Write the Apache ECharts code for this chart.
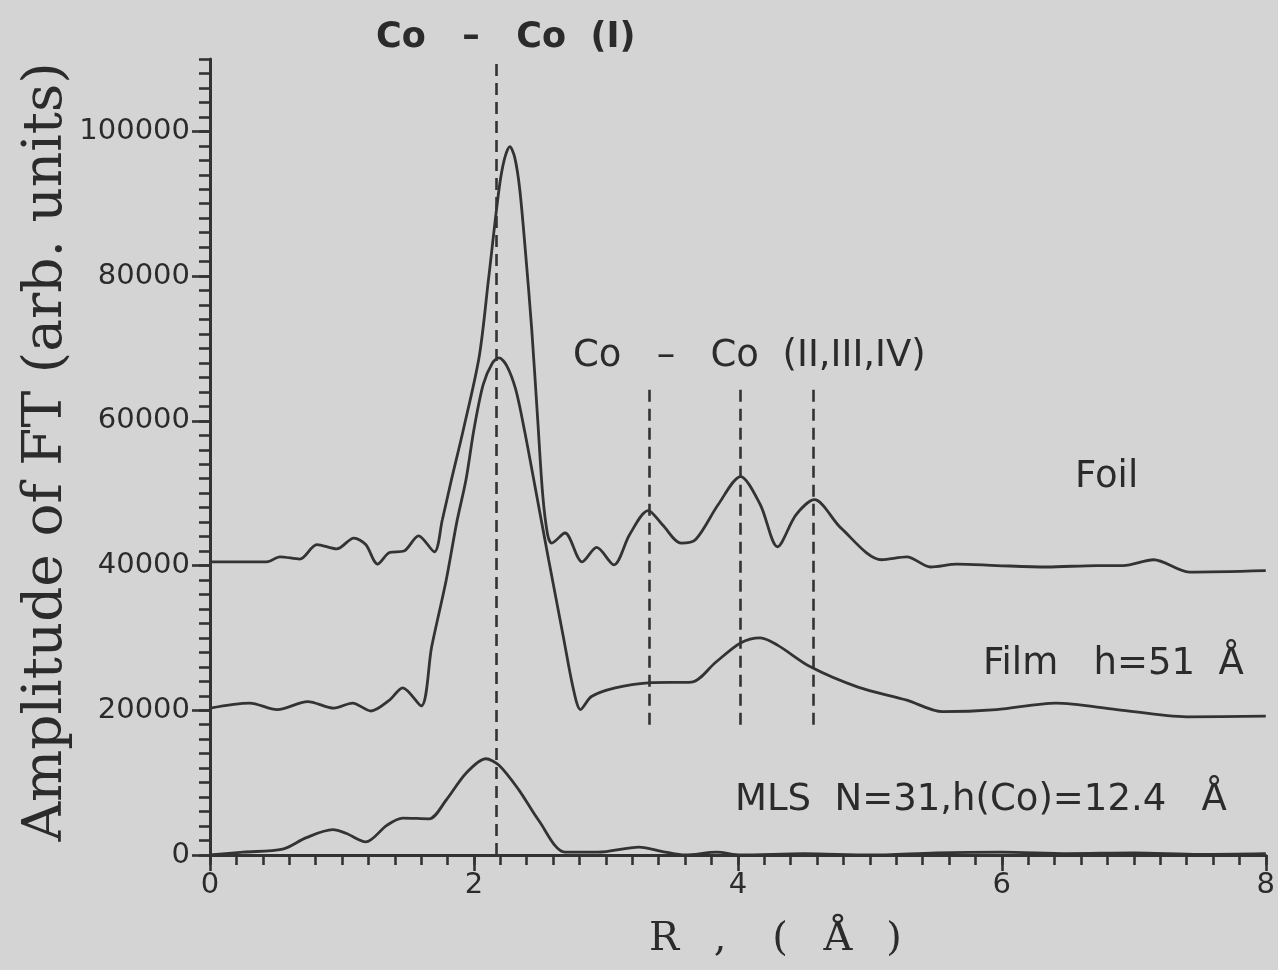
<!DOCTYPE html>
<html>
<head>
<meta charset="utf-8">
<script src="https://cdn.jsdelivr.net/npm/echarts@6/dist/echarts.min.js"></script>
<style>
html,body{margin:0;padding:0;background:#d4d4d4;}
#chart{width:1278px;height:970px;}
</style>
</head>
<body>
<div id="chart"></div>
<script>
// ---- data ----
const foilR = [0,0.43,0.53,0.68,0.81,0.96,1.09,1.18,1.27,1.36,1.47,1.58,1.70,1.76,1.83,1.92,2.04,2.11,2.19,2.23,2.272,2.309,2.347,2.392,2.438,2.483,2.521,2.558,2.589,2.69,2.82,2.93,3.06,3.18,3.32,3.43,3.57,3.68,3.85,4.02,4.17,4.30,4.44,4.58,4.78,5.09,5.28,5.46,5.66,5.96,6.34,6.72,6.92,7.15,7.42,8.0];
const foilV = [40500,40500,41200,40900,42900,42300,43800,42900,40200,41800,42000,44100,41900,46300,51900,58800,68900,79500,92000,96100,97900,96400,92000,83000,72600,60200,49800,44300,43100,44500,40500,42500,40100,44300,47600,45600,43100,43600,48400,52300,48400,42600,47000,49100,45200,40800,41200,39800,40200,40000,39800,40000,40000,40800,39100,39300];

const filmR = [0,0.30,0.51,0.74,0.94,1.08,1.22,1.36,1.46,1.60,1.68,1.79,1.87,1.94,2.00,2.07,2.14,2.19,2.249,2.317,2.385,2.46,2.566,2.679,2.755,2.808,2.89,3.07,3.32,3.65,3.83,4.02,4.17,4.30,4.55,4.91,5.28,5.55,5.96,6.41,6.87,7.40,8.0];
const filmV = [20300,21000,20100,21200,20300,21000,19900,21400,23100,20600,28800,38000,46000,51900,58800,65000,68000,68700,67600,64300,58500,51200,40800,30000,22800,20100,21900,23100,23800,23900,26600,29300,30000,29000,26000,23200,21400,19800,20100,21000,20100,19100,19200];

const mlsR = [0,0.25,0.55,0.73,0.93,1.03,1.18,1.34,1.46,1.66,1.79,1.94,2.09,2.19,2.34,2.49,2.69,2.94,3.25,3.45,3.60,3.84,4.02,4.5,5.0,5.5,6.0,6.5,7.0,7.5,8.0];
const mlsV = [0,400,800,2400,3500,3000,1800,4100,5100,5000,7600,11300,13300,12400,9000,4800,400,400,1100,400,0,400,0,200,0,300,400,200,300,100,200];

const peakI = [2.17];                 // Co-Co (I) dashed line
const peaksII = [3.33, 4.02, 4.57];   // Co-Co (II,III,IV) dashed lines
const peaksIIRange = [64300, 17600];  // vertical extent of those dashed lines

const yTickVals = [0,20000,40000,60000,80000,100000];
const xTickVals = [0,2,4,6,8];

const ink = '#333333';
const txt = '#2b2b2b';

function pairs(r, v){ return r.map((x,i)=>[x, v[i]]); }

const chart = echarts.init(document.getElementById('chart'), null, {renderer:'canvas'});

const dashStyle = {color: ink, width: 2.6, type: [12, 7]};
const lineCommon = {smooth: 0.3, showSymbol: false, symbol: 'none',
  lineStyle: {color: ink, width: 2.8}};

const option = {
  backgroundColor: '#d4d4d4',
  animation: false,
  grid: {left: 210, right: 8, top: 59, bottom: 115, containLabel: false},
  xAxis: [{
    type: 'value', min: 0, max: 8, interval: 2,
    axisLine: {show: true, onZero: false, lineStyle: {color: ink, width: 3}},
    axisTick: {show: true, length: 16, lineStyle: {color: ink, width: 2.6}},
    splitLine: {show: false},
    axisLabel: {color: txt, fontFamily: 'DejaVu Sans', fontSize: 29, margin: 16,
      customValues: xTickVals, formatter: v => String(v)}
  }, {
    type: 'value', min: 0, max: 8, interval: 0.2, position: 'bottom',
    axisLine: {show: false},
    axisTick: {show: true, length: 10, lineStyle: {color: ink, width: 2.6}},
    axisLabel: {show: false},
    splitLine: {show: false}
  }],
  yAxis: [{
    type: 'value', min: 0, max: 110000, interval: 20000,
    axisLine: {show: true, lineStyle: {color: ink, width: 3}},
    axisTick: {show: true, length: 18, customValues: yTickVals, lineStyle: {color: ink, width: 2.6}},
    splitLine: {show: false},
    axisLabel: {color: txt, fontFamily: 'DejaVu Sans', fontSize: 29, margin: 20,
      customValues: yTickVals, formatter: v => (v > 100000 ? '' : String(v))}
  }, {
    type: 'value', min: 0, max: 110000, interval: 2000, position: 'left',
    axisLine: {show: false},
    axisTick: {show: true, length: 11, lineStyle: {color: ink, width: 2.6}},
    axisLabel: {show: false},
    splitLine: {show: false}
  }],
  series: [
    Object.assign({
      name: 'Foil', type: 'line', data: pairs(foilR, foilV),
      markLine: {
        silent: true, symbol: 'none', label: {show: false}, lineStyle: dashStyle,
        data: peakI.map(x => ({xAxis: x}))
      }
    }, lineCommon),
    Object.assign({
      name: 'Film', type: 'line', data: pairs(filmR, filmV),
      markLine: {
        silent: true, symbol: 'none', label: {show: false}, lineStyle: dashStyle,
        data: peaksII.map(x => [{coord: [x, peaksIIRange[0]]}, {coord: [x, peaksIIRange[1]]}])
      }
    }, lineCommon),
    Object.assign({
      name: 'MLS', type: 'line', data: pairs(mlsR, mlsV)
    }, lineCommon)
  ],
  graphic: [
    {type: 'text', x: 47, y: 452, rotation: Math.PI/2,
      style: {text: 'Amplitude of FT (arb. units)', font: '55px "DejaVu Serif"', fill: txt,
        textAlign: 'center', textVerticalAlign: 'middle'}},
    {type: 'text', x: 664, y: 940, style: {text: 'R', font: '40px "DejaVu Serif"', fill: txt, textAlign: 'center', textVerticalAlign: 'middle'}},
    {type: 'text', x: 720, y: 940, style: {text: ',', font: '40px "DejaVu Serif"', fill: txt, textAlign: 'center', textVerticalAlign: 'middle'}},
    {type: 'text', x: 780, y: 940, style: {text: '(', font: '40px "DejaVu Serif"', fill: txt, textAlign: 'center', textVerticalAlign: 'middle'}},
    {type: 'text', x: 838, y: 940, style: {text: 'Å', font: '40px "DejaVu Serif"', fill: txt, textAlign: 'center', textVerticalAlign: 'middle'}},
    {type: 'text', x: 894, y: 940, style: {text: ')', font: '40px "DejaVu Serif"', fill: txt, textAlign: 'center', textVerticalAlign: 'middle'}},
    {type: 'text', x: 376, y: 38, style: {text: 'Co   –   Co  (I)', font: 'bold 35px "DejaVu Sans"', fill: txt, textAlign: 'left', textVerticalAlign: 'middle'}},
    {type: 'text', x: 573, y: 356, style: {text: 'Co   –   Co  (II,III,IV)', font: '37px "DejaVu Sans"', fill: txt, textAlign: 'left', textVerticalAlign: 'middle'}},
    {type: 'text', x: 1075, y: 477, style: {text: 'Foil', font: '37px "DejaVu Sans"', fill: txt, textAlign: 'left', textVerticalAlign: 'middle'}},
    {type: 'text', x: 983, y: 664, style: {text: 'Film   h=51  Å', font: '37px "DejaVu Sans"', fill: txt, textAlign: 'left', textVerticalAlign: 'middle'}},
    {type: 'text', x: 735, y: 800, style: {text: 'MLS  N=31,h(Co)=12.4   Å', font: '37px "DejaVu Sans"', fill: txt, textAlign: 'left', textVerticalAlign: 'middle'}}
  ]
};
chart.setOption(option);
</script>
</body>
</html>
